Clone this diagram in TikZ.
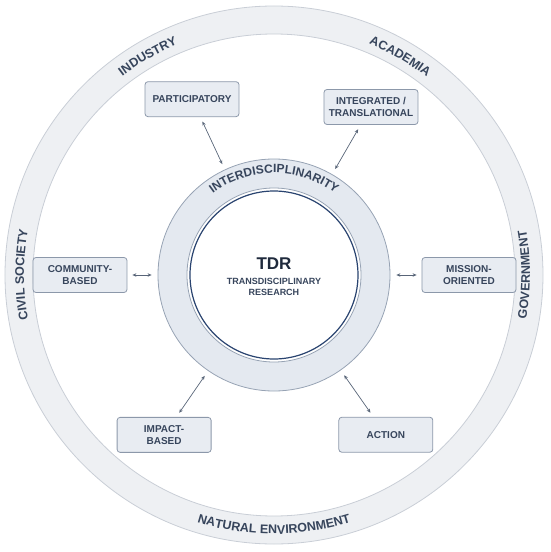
\documentclass[tikz,border=0pt]{standalone}
\usepackage{fontspec}
\setmainfont{Liberation Sans}
\usetikzlibrary{arrows.meta,decorations.text}

\definecolor{outerFill}{HTML}{EEF0F3}
\definecolor{outerLine}{HTML}{C9CED6}
\definecolor{ringFill}{HTML}{E4E9F0}
\definecolor{ringLine}{HTML}{97A3B4}
\definecolor{boxFill}{HTML}{E8ECF2}
\definecolor{boxLine}{HTML}{8C98AA}
\definecolor{labelInk}{HTML}{37455C}
\definecolor{tdrInk}{HTML}{1F2A3C}
\definecolor{tdrNavy}{HTML}{2A4470}
\definecolor{arrowInk}{HTML}{586578}

\newcommand{\ringfont}{\bfseries\fontsize{12.5}{12.5}\selectfont\color{labelInk}}
\newcommand{\midfont}{\bfseries\fontsize{12}{12}\selectfont\color{labelInk}}

\tikzstyle{PillarBox} = [draw=boxLine, fill=boxFill, line width=0.8pt, rounded corners=3pt,
  minimum width=94pt, minimum height=35pt, align=center, text=labelInk,
  font=\bfseries\fontsize{10}{11.5}\selectfont]
\tikzstyle{RingNode} = [draw=ringLine, fill=ringFill, line width=0.8pt, circle, minimum size=232pt]
\tikzstyle{link} = [draw=arrowInk, line width=0.7pt,
  {Stealth[length=4pt,width=3.5pt]}-{Stealth[length=4pt,width=3.5pt]},
  shorten <=5pt, shorten >=6pt]

\begin{document}
\begin{tikzpicture}[x=1pt, y=1pt]
    \useasboundingbox (-274,-277) rectangle (276,275);

    % outer ring of actors
    \fill[outerFill, even odd rule] (0,0) circle[radius=269] (0,0) circle[radius=241];
    \draw[outerLine, line width=0.8pt] (0,0) circle[radius=269] (0,0) circle[radius=241];

    \path[decorate, decoration={text along path, text align=center, text={|\ringfont|INDUSTRY}}]
      (140:250) arc[start angle=140, end angle=100, radius=250];
    \path[decorate, decoration={text along path, text align=center, text={|\ringfont|ACADEMIA}}]
      (80:250) arc[start angle=80, end angle=40, radius=250];
    \path[decorate, decoration={text along path, text align=center, text={|\ringfont|CIVIL SOCIETY}}]
      (205:250) arc[start angle=205, end angle=155, radius=250];
    \path[decorate, decoration={text along path, text align=center, text={|\ringfont|GOVERNMENT}}]
      (-30:256) arc[start angle=-30, end angle=30, radius=256];
    \path[decorate, decoration={text along path, text align=center, text={|\ringfont|NATURAL ENVIRONMENT}}]
      (235:259) arc[start angle=235, end angle=305, radius=259];

    % middle ring and core
    \node[RingNode] (ring) at (0,0) {};
    \path[decorate, decoration={text along path, text align=center, text={|\midfont|INTERDISCIPLINARITY}}]
      (140:102) arc[start angle=140, end angle=40, radius=102];
    \draw[ringLine, fill=white, line width=0.8pt] (0,0) circle[radius=87];
    \draw[tdrNavy, line width=1.2pt] (0,0) circle[radius=84];

    \node[text=tdrInk, font=\bfseries\fontsize{17}{17}\selectfont] (tdr) at (0,11) {TDR};
    \node[text=labelInk, align=center, font=\bfseries\fontsize{9}{10.5}\selectfont] (tdr-sub) at (0,-12)
      {TRANSDISCIPLINARY\\RESEARCH};

    % forms of transdisciplinary research
    \node[PillarBox] (participatory) at (115:194) {PARTICIPATORY} edge[link] (ring);
    \node[PillarBox] (integrated) at (60:194) {INTEGRATED /\\TRANSLATIONAL} edge[link] (ring);
    \node[PillarBox] (community) at (180:194) {COMMUNITY-\\BASED} edge[link] (ring);
    \node[PillarBox] (mission) at (0:195) {MISSION-\\ORIENTED} edge[link] (ring);
    \node[PillarBox] (impact) at (235.5:194) {IMPACT-\\BASED} edge[link] (ring);
    \node[PillarBox] (action) at (305:195) {ACTION} edge[link] (ring);
\end{tikzpicture}
\end{document}
